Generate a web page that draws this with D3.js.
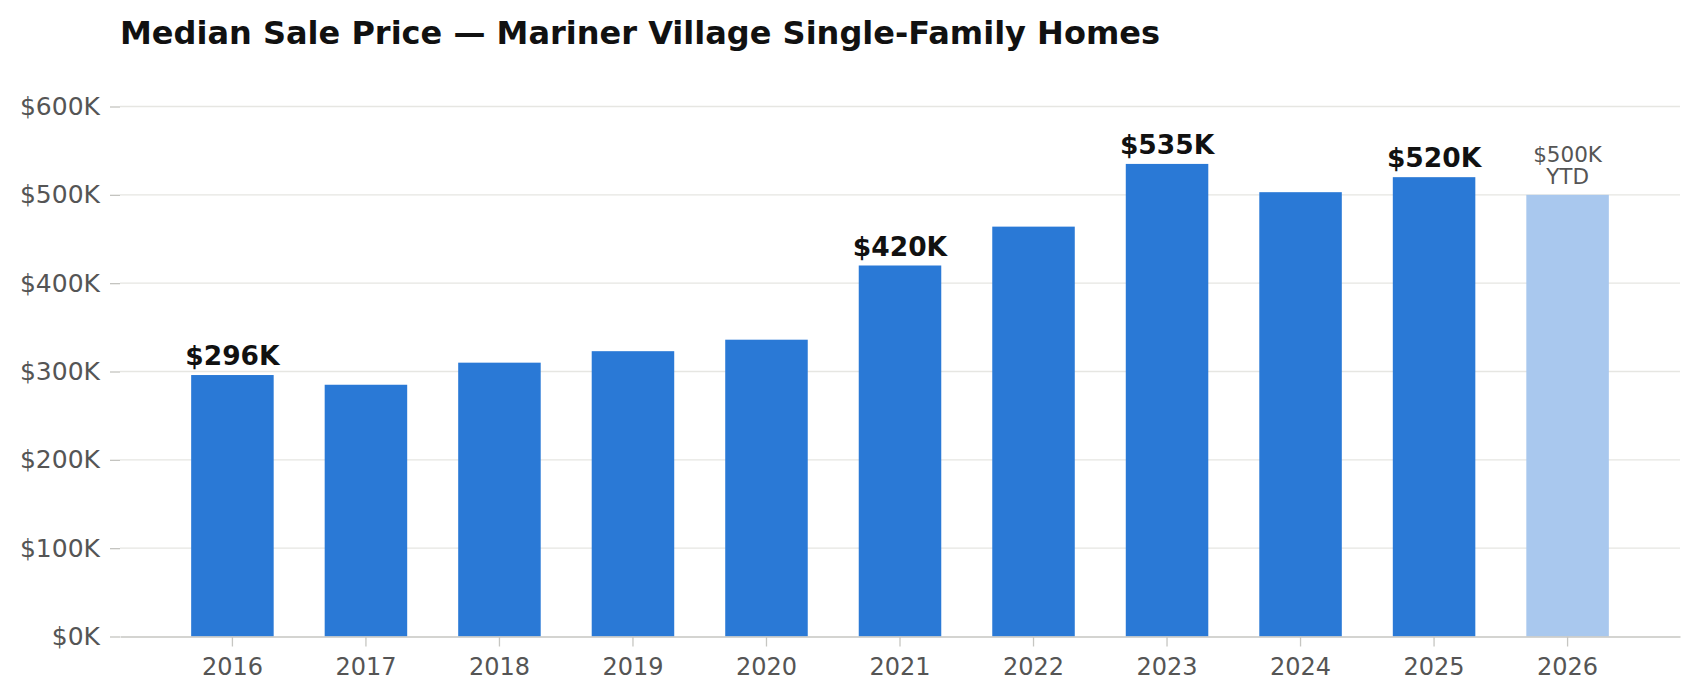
<!DOCTYPE html>
<html>
<head>
<meta charset="utf-8">
<script src="https://cdn.jsdelivr.net/npm/d3@7"></script>
<style>
  html, body { margin: 0; padding: 0; background: #fff; }
  svg { display: block; font-family: "DejaVu Sans", sans-serif; }
</style>
</head>
<body>
<svg id="chart" width="1699" height="700"></svg>
<script>
const title = "Median Sale Price — Mariner Village Single-Family Homes";
const years = ["2016","2017","2018","2019","2020","2021","2022","2023","2024","2025","2026"];
const prices = [296000, 285000, 310000, 323000, 336000, 420000, 464000, 535000, 503000, 520000, 500000];
const isYTD = [false,false,false,false,false,false,false,false,false,false,true];
const showLabel = [true,false,false,false,false,true,false,true,false,true,true];
const yTicks = [0, 100000, 200000, 300000, 400000, 500000, 600000];

const svg = d3.select("#chart");
const plotLeft = 120, plotRight = 1680, plotBottom = 636.5, plotTop = 106.5;

const x = d3.scaleBand().domain(years).range([plotLeft, plotRight]).paddingInner(0.382).paddingOuter(0.533);
const y = d3.scaleLinear().domain([0, 600000]).range([plotBottom, plotTop]);
const fmt = v => "$" + Math.round(v / 1000) + "K";

// gridlines
svg.append("g").selectAll("line").data(yTicks.slice(1)).join("line")
  .attr("x1", plotLeft).attr("x2", plotRight)
  .attr("y1", d => y(d)).attr("y2", d => y(d))
  .attr("stroke", "#e6e6e2").attr("stroke-width", 1.3);

// y axis
const yAxis = svg.append("g").attr("transform", `translate(${plotLeft},0)`)
  .call(d3.axisLeft(y).tickValues(yTicks).tickSize(10).tickPadding(10).tickFormat(fmt));
yAxis.select(".domain").remove();
yAxis.selectAll(".tick line").attr("stroke", "#c4c4c0").attr("stroke-width", 1.3);
yAxis.selectAll(".tick text").attr("fill", "#555").attr("font-size", "25px")
  .attr("font-family", "DejaVu Sans, sans-serif");

// bars
svg.append("g").selectAll("rect").data(years).join("rect")
  .attr("x", d => x(d)).attr("width", x.bandwidth())
  .attr("y", (d, i) => y(prices[i]))
  .attr("height", (d, i) => plotBottom - y(prices[i]))
  .attr("fill", (d, i) => isYTD[i] ? "#a9c8ee" : "#2a79d6");

// x axis
const xAxis = svg.append("g").attr("transform", `translate(0,${plotBottom})`)
  .call(d3.axisBottom(x).tickSize(10).tickPadding(11).tickSizeOuter(0));
xAxis.select(".domain").attr("stroke", "#c6c6c2").attr("stroke-width", 1.6);
xAxis.selectAll(".tick line").attr("stroke", "#c6c6c2").attr("stroke-width", 1.3);
xAxis.selectAll(".tick text").attr("fill", "#555").attr("font-size", "24px")
  .attr("font-family", "DejaVu Sans, sans-serif");

// value labels
const lab = svg.append("g");
years.forEach((yr, i) => {
  if (!showLabel[i]) return;
  const cx = x(yr) + x.bandwidth() / 2;
  const ty = y(prices[i]);
  if (isYTD[i]) {
    const t = lab.append("text").attr("x", cx).attr("text-anchor", "middle")
      .attr("fill", "#555").attr("font-size", "21.5px");
    t.append("tspan").attr("x", cx).attr("y", ty - 32.5).text(fmt(prices[i]));
    t.append("tspan").attr("x", cx).attr("y", ty - 10.5).text("YTD");
  } else {
    lab.append("text").attr("x", cx).attr("y", ty - 10)
      .attr("text-anchor", "middle").attr("fill", "#111")
      .attr("font-size", "26.5px").attr("font-weight", "bold").text(fmt(prices[i]));
  }
});

// title
svg.append("text").attr("x", 120).attr("y", 44.3)
  .attr("font-size", "32px").attr("font-weight", "bold").attr("fill", "#111")
  .text(title);
</script>
</body>
</html>
